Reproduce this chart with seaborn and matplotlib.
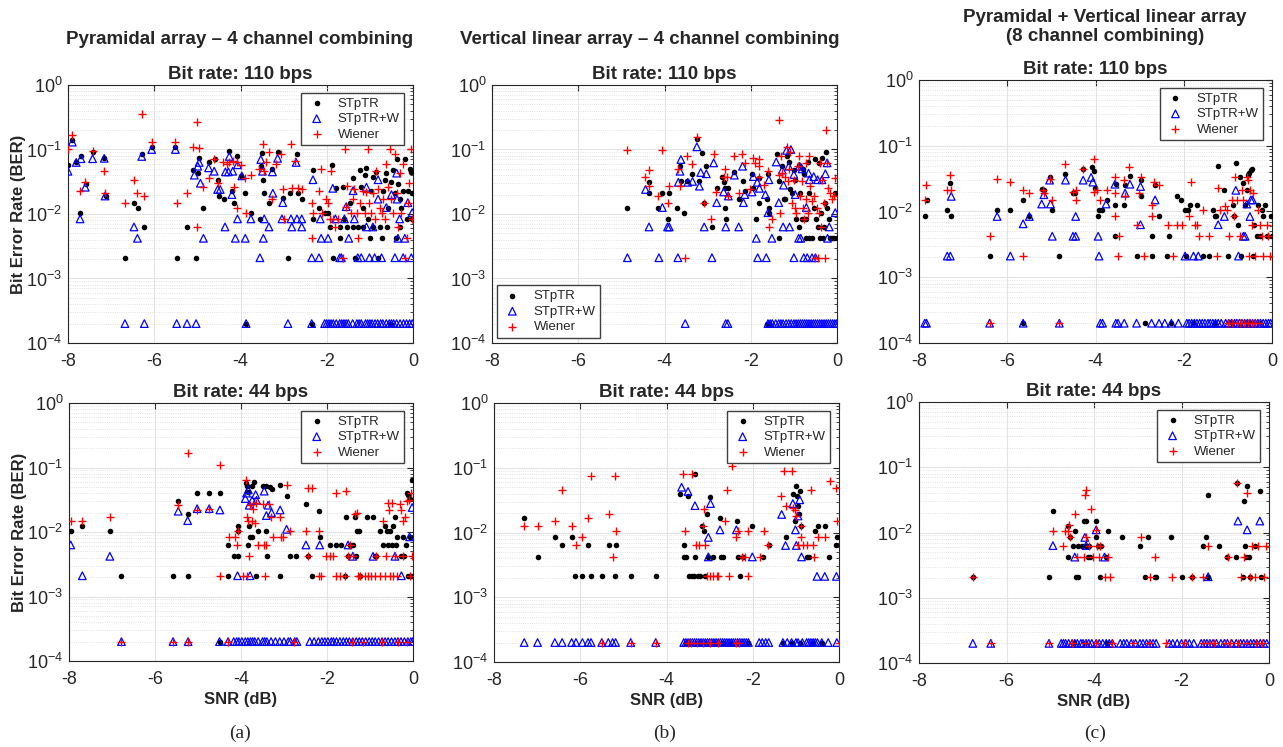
import matplotlib
matplotlib.use("Agg")
import matplotlib.pyplot as plt
from matplotlib.ticker import LogLocator, NullLocator, FixedLocator
import pandas as pd
import seaborn as sns

# BER values; zero-error runs are drawn on the 2e-4 floor
BER_FLOOR = 2e-4
SERIES = ["STpTR", "STpTR+W", "Wiener"]

# ---------------- (a) Pyramidal array, 110 bps ----------------
a_hi_stptr = [
    (-8.0, 0.057), (-7.9, 0.14), (-7.81, 0.063), (-7.7, 0.078), (-7.72, 0.0105), (-7.59, 0.029), (-7.43, 0.093),
    (-7.16, 0.075), (-7.12, 0.019), (-6.68, 0.0021), (-6.47, 0.0148), (-6.37, 0.0126), (-6.29, 0.085), (-6.23, 0.0063),
    (-6.06, 0.11), (-5.51, 0.11), (-5.48, 0.0021), (-5.24, 0.0063), (-5.09, 0.048), (-5.03, 0.0021), (-4.99, 0.043),
    (-4.96, 0.075), (-4.88, 0.0126), (-4.72, 0.065), (-4.6, 0.07), (-4.53, 0.034), (-4.49, 0.019), (-4.38, 0.017),
    (-4.26, 0.095), (-4.2, 0.023), (-4.14, 0.015), (-4.07, 0.08), (-3.99, 0.039), (-3.89, 0.021), (-3.87, 0.0002),
    (-3.76, 0.0105), (-3.55, 0.0084), (-3.53, 0.055), (-3.49, 0.088), (-3.47, 0.034), (-3.45, 0.021), (-3.34, 0.015),
    (-3.26, 0.05), (-3.14, 0.093), (-3.02, 0.018), (-2.9, 0.0021), (-2.86, 0.021), (-2.69, 0.085), (-2.67, 0.021),
    (-2.57, 0.017), (-2.35, 0.0002), (-2.32, 0.048), (-2.32, 0.0084), (-2.17, 0.0126), (-2.05, 0.0105), (-1.97, 0.0105),
    (-1.93, 0.0063), (-1.88, 0.057), (-1.86, 0.0021), (-1.78, 0.025), (-1.7, 0.0042), (-1.7, 0.0063), (-1.63, 0.026),
    (-1.59, 0.0084), (-1.52, 0.0063), (-1.47, 0.015), (-1.4, 0.036), (-1.4, 0.0063), (-1.35, 0.0021), (-1.28, 0.0063),
    (-1.24, 0.048), (-1.2, 0.026), (-1.16, 0.0126), (-1.16, 0.0063), (-1.12, 0.04), (-1.08, 0.052), (-1.04, 0.0084),
    (-1.0, 0.0042), (-0.97, 0.023), (-0.93, 0.038), (-0.93, 0.0063), (-0.85, 0.045), (-0.81, 0.0021), (-0.77, 0.0063),
    (-0.73, 0.0042), (-0.7, 0.023), (-0.66, 0.034), (-0.62, 0.043), (-0.6, 0.0063), (-0.58, 0.0126), (-0.53, 0.0002),
    (-0.5, 0.031), (-0.46, 0.048), (-0.42, 0.021), (-0.4, 0.0042), (-0.38, 0.07), (-0.35, 0.029), (-0.31, 0.017),
    (-0.3, 0.0063), (-0.27, 0.0126), (-0.23, 0.023), (-0.19, 0.07), (-0.15, 0.0084), (-0.12, 0.023), (-0.08, 0.05),
    (-0.04, 0.045), (-0.02, 0.021), (-0.02, 0.0084),
]
a_hi_stptrw = [
    (-8.0, 0.046), (-7.9, 0.13), (-7.81, 0.063), (-7.72, 0.0084), (-7.7, 0.072), (-7.6, 0.026), (-7.43, 0.072),
    (-7.16, 0.073), (-7.14, 0.019), (-6.47, 0.0063), (-6.39, 0.0042), (-6.29, 0.078), (-6.06, 0.1), (-5.51, 0.1),
    (-5.07, 0.04), (-4.99, 0.055), (-4.96, 0.063), (-4.93, 0.03), (-4.86, 0.0042), (-4.74, 0.052), (-4.61, 0.046),
    (-4.53, 0.024), (-4.47, 0.024), (-4.36, 0.0063), (-4.35, 0.045), (-4.28, 0.045), (-4.26, 0.078), (-4.2, 0.02),
    (-4.18, 0.046), (-4.12, 0.0042), (-4.07, 0.0084), (-4.07, 0.058), (-3.97, 0.039), (-3.89, 0.0042), (-3.76, 0.0084),
    (-3.55, 0.0021), (-3.53, 0.07), (-3.49, 0.046), (-3.47, 0.0042), (-3.45, 0.0084), (-3.34, 0.0063), (-3.26, 0.045),
    (-3.25, 0.021), (-3.14, 0.073), (-3.04, 0.0084), (-3.02, 0.015), (-2.83, 0.0084), (-2.81, 0.0063), (-2.71, 0.063),
    (-2.69, 0.0084), (-2.58, 0.0084), (-2.58, 0.0063), (-2.35, 0.0021), (-2.32, 0.034), (-2.18, 0.0021), (-2.15, 0.0084),
    (-2.13, 0.0042), (-1.97, 0.0042), (-1.86, 0.025), (-1.8, 0.0084), (-1.7, 0.0021), (-1.66, 0.0021), (-1.59, 0.0084),
    (-1.55, 0.013), (-1.49, 0.0042), (-1.39, 0.023), (-1.36, 0.0084), (-1.28, 0.0021), (-1.2, 0.0021), (-1.08, 0.026),
    (-1.08, 0.0063), (-1.01, 0.0021), (-0.93, 0.0063), (-0.89, 0.0021), (-0.81, 0.034), (-0.81, 0.017), (-0.73, 0.0021),
    (-0.62, 0.0126), (-0.5, 0.02), (-0.42, 0.0021), (-0.38, 0.043), (-0.37, 0.017), (-0.35, 0.0042), (-0.31, 0.0084),
    (-0.23, 0.0021), (-0.19, 0.0042), (-0.12, 0.015), (-0.04, 0.0021), (-0.02, 0.0105),
]
a_hi_stptrw_zero = [
    -6.68, -6.23, -5.48, -5.24, -5.03, -3.87, -2.9, -2.35, -2.05, -2.0, -1.95, -1.9, -1.85, -1.78, -1.7, -1.65,
    -1.6, -1.55, -1.5, -1.4, -1.3, -1.25, -1.2, -1.1, -1.05, -1.0, -0.95, -0.88, -0.82, -0.75, -0.7, -0.62, -0.55,
    -0.5, -0.45, -0.38, -0.3, -0.22, -0.15, -0.08, -0.02,
]
a_hi_wiener = [
    (-8.0, 0.1), (-7.9, 0.17), (-7.72, 0.023), (-7.6, 0.031), (-7.43, 0.095), (-7.16, 0.046), (-7.14, 0.021),
    (-6.68, 0.015), (-6.47, 0.034), (-6.39, 0.021), (-6.29, 0.36), (-6.23, 0.019), (-6.06, 0.13), (-5.51, 0.13),
    (-5.47, 0.015), (-5.24, 0.021), (-5.09, 0.11), (-5.02, 0.27), (-5.02, 0.0063), (-4.96, 0.105), (-4.88, 0.026),
    (-4.72, 0.036), (-4.61, 0.07), (-4.53, 0.03), (-4.4, 0.063), (-4.32, 0.059), (-4.26, 0.063), (-4.18, 0.067),
    (-4.14, 0.026), (-4.09, 0.0126), (-4.07, 0.063), (-3.99, 0.057), (-3.89, 0.036), (-3.87, 0.0105), (-3.76, 0.04),
    (-3.57, 0.05), (-3.47, 0.12), (-3.45, 0.046), (-3.41, 0.063), (-3.34, 0.093), (-3.26, 0.017), (-3.18, 0.06),
    (-3.06, 0.085), (-3.02, 0.024), (-2.98, 0.0084), (-2.84, 0.12), (-2.81, 0.025), (-2.73, 0.067), (-2.67, 0.025),
    (-2.57, 0.024), (-2.35, 0.015), (-2.35, 0.0042), (-2.32, 0.0105), (-2.17, 0.023), (-2.14, 0.05), (-2.1, 0.0105),
    (-2.02, 0.017), (-1.97, 0.015), (-1.93, 0.0084), (-1.9, 0.046), (-1.86, 0.0084), (-1.8, 0.0063), (-1.74, 0.0084),
    (-1.63, 0.0021), (-1.57, 0.1), (-1.55, 0.013), (-1.52, 0.027), (-1.44, 0.0105), (-1.4, 0.017), (-1.36, 0.024),
    (-1.3, 0.0105), (-1.28, 0.0042), (-1.24, 0.015), (-1.16, 0.023), (-1.12, 0.0105), (-1.08, 0.022), (-1.04, 0.1),
    (-1.01, 0.015), (-0.97, 0.0105), (-0.93, 0.021), (-0.89, 0.0084), (-0.85, 0.046), (-0.81, 0.024), (-0.77, 0.0126),
    (-0.73, 0.0105), (-0.7, 0.017), (-0.66, 0.0084), (-0.62, 0.06), (-0.58, 0.026), (-0.54, 0.1), (-0.5, 0.017),
    (-0.46, 0.0105), (-0.42, 0.085), (-0.38, 0.021), (-0.35, 0.0063), (-0.31, 0.043), (-0.27, 0.0105), (-0.23, 0.06),
    (-0.19, 0.0021), (-0.15, 0.0042), (-0.12, 0.015), (-0.09, 0.03), (-0.04, 0.1), (-0.02, 0.0084),
]

# ---------------- (a) Pyramidal array, 44 bps ----------------
a_lo_stptr = [
    (-7.96, 0.0105), (-7.69, 0.0126), (-7.05, 0.0105), (-6.78, 0.0021), (-5.58, 0.0021), (-5.46, 0.03), (-5.23, 0.019),
    (-5.23, 0.0021), (-5.02, 0.04), (-4.74, 0.04), (-4.49, 0.04), (-4.5, 0.0002), (-4.3, 0.0063), (-4.3, 0.0021),
    (-4.17, 0.0042), (-4.08, 0.0126), (-4.07, 0.0042), (-4.08, 0.0105), (-3.89, 0.058), (-3.87, 0.052), (-3.83, 0.042),
    (-3.83, 0.0063), (-3.81, 0.0126), (-3.78, 0.0084), (-3.74, 0.052), (-3.74, 0.0084), (-3.7, 0.06), (-3.66, 0.0021),
    (-3.6, 0.0105), (-3.49, 0.052), (-3.41, 0.052), (-3.39, 0.0042), (-3.41, 0.0105), (-3.33, 0.049), (-3.29, 0.047),
    (-3.1, 0.053), (-3.1, 0.0021), (-2.94, 0.036), (-2.86, 0.0042), (-2.72, 0.0042), (-2.49, 0.027), (-2.44, 0.0042),
    (-2.35, 0.0021), (-2.18, 0.021), (-2.17, 0.0084), (-1.94, 0.0063), (-1.8, 0.0063), (-1.68, 0.0063), (-1.59, 0.0021),
    (-1.55, 0.0168), (-1.51, 0.0042), (-1.47, 0.0063), (-1.4, 0.0063), (-1.36, 0.0168), (-1.33, 0.0042), (-1.3, 0.0105),
    (-1.25, 0.0105), (-1.24, 0.0021), (-1.08, 0.0168), (-0.93, 0.0168), (-0.89, 0.0042), (-0.85, 0.0042), (-0.77, 0.0105),
    (-0.7, 0.0063), (-0.66, 0.0126), (-0.6, 0.0105), (-0.58, 0.0063), (-0.54, 0.0105), (-0.5, 0.0063), (-0.46, 0.0126),
    (-0.42, 0.0168), (-0.4, 0.0063), (-0.37, 0.0084), (-0.27, 0.0042), (-0.23, 0.0084), (-0.21, 0.0042), (-0.17, 0.0063),
    (-0.14, 0.04), (-0.12, 0.037), (-0.12, 0.0021), (-0.08, 0.0084), (-0.06, 0.033), (-0.04, 0.0021), (-0.02, 0.063),
]
a_lo_stptrw = [
    (-7.96, 0.0063), (-7.69, 0.0021), (-7.05, 0.0042), (-5.46, 0.021), (-5.24, 0.015), (-5.02, 0.023), (-4.74, 0.023),
    (-4.49, 0.022), (-4.08, 0.0021), (-3.9, 0.033), (-3.87, 0.04), (-3.83, 0.045), (-3.81, 0.026), (-3.79, 0.0021),
    (-3.74, 0.031), (-3.66, 0.038), (-3.64, 0.031), (-3.46, 0.043), (-3.41, 0.018), (-3.37, 0.026), (-3.29, 0.02),
    (-3.09, 0.022), (-2.94, 0.011), (-2.49, 0.0063), (-2.17, 0.0063), (-1.51, 0.0063), (-1.4, 0.0042), (-0.93, 0.0042),
    (-0.42, 0.0042), (-0.27, 0.0021), (-0.08, 0.0084), (-0.02, 0.024),
]
a_lo_stptrw_zero = [
    -6.78, -5.58, -5.23, -4.5, -4.3, -4.17, -4.1, -4.05, -3.98, -3.9, -3.84, -3.78, -3.73, -3.68, -3.6, -3.5, -3.45,
    -3.4, -3.3, -3.2, -3.1, -3.0, -2.9, -2.85, -2.75, -2.7, -2.4, -2.3, -2.2, -2.12, -2.05, -1.98, -1.9, -1.85, -1.78,
    -1.7, -1.62, -1.55, -1.48, -1.4, -1.32, -1.25, -1.18, -1.1, -1.02, -0.95, -0.88, -0.8, -0.72, -0.65, -0.58, -0.5,
    -0.42, -0.35, -0.28, -0.2, -0.12, -0.05, -0.01,
]
a_lo_wiener = [
    (-7.96, 0.015), (-7.69, 0.015), (-7.05, 0.017), (-6.78, 0.0002), (-5.58, 0.0002), (-5.46, 0.026), (-5.23, 0.17),
    (-5.23, 0.0002), (-5.02, 0.022), (-4.74, 0.023), (-4.49, 0.11), (-4.5, 0.0021), (-4.3, 0.0002), (-4.28, 0.0084),
    (-4.15, 0.0084), (-4.08, 0.0105), (-4.09, 0.0063), (-3.95, 0.0021), (-3.89, 0.063), (-3.87, 0.0168), (-3.86, 0.0021),
    (-3.83, 0.015), (-3.81, 0.0042), (-3.79, 0.026), (-3.75, 0.015), (-3.72, 0.023), (-3.68, 0.014), (-3.65, 0.028),
    (-3.6, 0.0063), (-3.49, 0.027), (-3.46, 0.0063), (-3.45, 0.0021), (-3.41, 0.0063), (-3.34, 0.027), (-3.3, 0.017),
    (-3.25, 0.0084), (-3.1, 0.017), (-3.06, 0.0084), (-3.02, 0.0084), (-2.94, 0.053), (-2.86, 0.0105), (-2.77, 0.0002),
    (-2.49, 0.0105), (-2.44, 0.048), (-2.44, 0.0042), (-2.35, 0.048), (-2.18, 0.0105), (-2.18, 0.0021), (-2.13, 0.0021),
    (-2.03, 0.0042), (-1.94, 0.0042), (-1.86, 0.0042), (-1.8, 0.04), (-1.78, 0.0021), (-1.7, 0.0021), (-1.59, 0.0021),
    (-1.55, 0.043), (-1.51, 0.0042), (-1.47, 0.0063), (-1.43, 0.0002), (-1.4, 0.0042), (-1.36, 0.019), (-1.3, 0.02),
    (-1.28, 0.0021), (-1.24, 0.0021), (-1.16, 0.0002), (-1.12, 0.0021), (-1.04, 0.0021), (-0.97, 0.0021), (-0.89, 0.0021),
    (-0.85, 0.0042), (-0.77, 0.0021), (-0.73, 0.0002), (-0.7, 0.015), (-0.66, 0.0021), (-0.62, 0.0042), (-0.58, 0.028),
    (-0.56, 0.022), (-0.54, 0.0021), (-0.5, 0.028), (-0.46, 0.0021), (-0.42, 0.0042), (-0.38, 0.0021), (-0.35, 0.0002),
    (-0.31, 0.027), (-0.27, 0.022), (-0.24, 0.015), (-0.23, 0.0042), (-0.19, 0.017), (-0.15, 0.0002), (-0.14, 0.03),
    (-0.09, 0.031), (-0.08, 0.0021), (-0.04, 0.04), (-0.02, 0.0042),
]

# ---------------- (b) Vertical linear array, 110 bps ----------------
b_hi_stptr = [
    (-4.86, 0.0126), (-4.37, 0.031), (-4.36, 0.021), (-4.14, 0.0126), (-4.06, 0.021), (-3.93, 0.0084), (-3.89, 0.021),
    (-3.7, 0.0126), (-3.64, 0.056), (-3.62, 0.032), (-3.54, 0.0105), (-3.48, 0.032), (-3.37, 0.042), (-3.25, 0.145),
    (-3.19, 0.032), (-3.14, 0.088), (-3.08, 0.015), (-3.03, 0.056), (-2.9, 0.0063), (-2.79, 0.025), (-2.67, 0.038),
    (-2.63, 0.031), (-2.6, 0.025), (-2.58, 0.0084), (-2.6, 0.0126), (-2.52, 0.025), (-2.38, 0.044), (-2.28, 0.017),
    (-2.17, 0.033), (-2.13, 0.023), (-1.97, 0.042), (-1.95, 0.025), (-1.87, 0.0084), (-1.82, 0.015), (-1.82, 0.036),
    (-1.62, 0.017), (-1.62, 0.0002), (-1.6, 0.042), (-1.58, 0.0126), (-1.58, 0.0105), (-1.57, 0.0002), (-1.39, 0.086),
    (-1.35, 0.0042), (-1.35, 0.032), (-1.27, 0.056), (-1.24, 0.017), (-1.2, 0.017), (-1.16, 0.078), (-1.12, 0.064),
    (-1.08, 0.024), (-1.04, 0.021), (-1.0, 0.048), (-0.97, 0.034), (-0.94, 0.0084), (-0.89, 0.0063), (-0.87, 0.058),
    (-0.85, 0.021), (-0.81, 0.0084), (-0.79, 0.05), (-0.76, 0.041), (-0.73, 0.0084), (-0.71, 0.0042), (-0.68, 0.064),
    (-0.66, 0.021), (-0.64, 0.0042), (-0.58, 0.0042), (-0.54, 0.0126), (-0.5, 0.07), (-0.48, 0.0084), (-0.45, 0.0063),
    (-0.42, 0.062), (-0.4, 0.0042), (-0.37, 0.0105), (-0.35, 0.074), (-0.33, 0.0042), (-0.29, 0.0063), (-0.27, 0.015),
    (-0.25, 0.093), (-0.23, 0.0126), (-0.19, 0.0084), (-0.17, 0.0042), (-0.11, 0.0042), (-0.08, 0.0042), (-0.04, 0.021),
    (-0.01, 0.0042),
]
b_hi_stptrw = [
    (-4.86, 0.0021), (-4.44, 0.024), (-4.36, 0.0063), (-4.13, 0.0021), (-4.05, 0.0126), (-3.93, 0.0063), (-3.89, 0.0063),
    (-3.69, 0.0021), (-3.68, 0.031), (-3.64, 0.046), (-3.62, 0.07), (-3.46, 0.031), (-3.35, 0.032), (-3.25, 0.11),
    (-3.19, 0.027), (-3.16, 0.044), (-3.08, 0.0063), (-3.03, 0.042), (-2.9, 0.0021), (-2.86, 0.062), (-2.79, 0.015),
    (-2.63, 0.022), (-2.58, 0.0063), (-2.52, 0.019), (-2.38, 0.04), (-2.28, 0.0063), (-2.19, 0.055), (-2.17, 0.015),
    (-2.14, 0.02), (-1.97, 0.022), (-1.94, 0.038), (-1.87, 0.0042), (-1.85, 0.031), (-1.84, 0.0021), (-1.8, 0.025),
    (-1.66, 0.02), (-1.64, 0.0021), (-1.6, 0.0105), (-1.58, 0.034), (-1.51, 0.0042), (-1.41, 0.064), (-1.35, 0.015),
    (-1.27, 0.048), (-1.25, 0.0063), (-1.24, 0.028), (-1.17, 0.097), (-1.12, 0.055), (-1.1, 0.0063), (-1.07, 0.1),
    (-1.0, 0.041), (-1.0, 0.0021), (-0.97, 0.02), (-0.89, 0.0042), (-0.87, 0.055), (-0.84, 0.0042), (-0.81, 0.05),
    (-0.77, 0.0021), (-0.71, 0.0126), (-0.69, 0.0021), (-0.66, 0.043), (-0.64, 0.034), (-0.58, 0.0021), (-0.54, 0.038),
    (-0.5, 0.0021), (-0.45, 0.034), (-0.35, 0.034), (-0.27, 0.042), (-0.23, 0.062), (-0.22, 0.0042), (-0.18, 0.0063),
    (-0.04, 0.0105),
]
b_hi_stptrw_zero = [
    -3.52, -2.58, -2.53, -1.6, -1.55, -1.5, -1.42, -1.35, -1.3, -1.25, -1.18, -1.12, -1.06, -1.0, -0.95, -0.9, -0.85,
    -0.8, -0.75, -0.7, -0.65, -0.6, -0.55, -0.5, -0.45, -0.4, -0.35, -0.3, -0.25, -0.2, -0.15, -0.1, -0.05, -0.01,
]
b_hi_wiener = [
    (-4.86, 0.098), (-4.45, 0.038), (-4.37, 0.048), (-4.37, 0.027), (-4.14, 0.019), (-4.05, 0.098), (-3.93, 0.015),
    (-3.89, 0.027), (-3.68, 0.05), (-3.64, 0.027), (-3.52, 0.0021), (-3.48, 0.08), (-3.37, 0.06), (-3.25, 0.155),
    (-3.08, 0.015), (-2.93, 0.0084), (-2.86, 0.086), (-2.8, 0.022), (-2.63, 0.038), (-2.6, 0.05), (-2.55, 0.038),
    (-2.53, 0.019), (-2.38, 0.078), (-2.28, 0.021), (-2.2, 0.086), (-2.13, 0.062), (-2.01, 0.024), (-1.95, 0.075),
    (-1.9, 0.062), (-1.82, 0.07), (-1.82, 0.055), (-1.82, 0.038), (-1.7, 0.028), (-1.6, 0.046), (-1.58, 0.0063),
    (-1.51, 0.0084), (-1.35, 0.29), (-1.35, 0.04), (-1.32, 0.0105), (-1.29, 0.078), (-1.27, 0.043), (-1.21, 0.038),
    (-1.17, 0.11), (-1.13, 0.032), (-1.12, 0.05), (-1.08, 0.093), (-1.04, 0.015), (-1.0, 0.034), (-0.98, 0.0126),
    (-0.94, 0.0105), (-0.9, 0.055), (-0.87, 0.08), (-0.85, 0.019), (-0.81, 0.032), (-0.79, 0.0126), (-0.76, 0.0084),
    (-0.73, 0.017), (-0.71, 0.062), (-0.68, 0.0105), (-0.66, 0.078), (-0.62, 0.027), (-0.58, 0.016), (-0.54, 0.019),
    (-0.5, 0.0021), (-0.46, 0.0126), (-0.45, 0.0021), (-0.42, 0.0105), (-0.4, 0.062), (-0.37, 0.0063), (-0.35, 0.034),
    (-0.31, 0.015), (-0.27, 0.0021), (-0.25, 0.2), (-0.23, 0.062), (-0.21, 0.025), (-0.17, 0.021), (-0.11, 0.017),
    (-0.08, 0.019), (-0.04, 0.036),
]

# ---------------- (b) Vertical linear array, 44 bps ----------------
b_lo_stptr = [
    (-7.3, 0.017), (-6.99, 0.0042), (-6.59, 0.0084), (-6.42, 0.0063), (-6.2, 0.0084), (-6.12, 0.0021), (-5.95, 0.0021),
    (-5.81, 0.0063), (-5.75, 0.0021), (-5.49, 0.0021), (-5.33, 0.0063), (-5.2, 0.0021), (-5.17, 0.0063), (-4.83, 0.0021),
    (-4.25, 0.0021), (-3.68, 0.04), (-3.6, 0.0063), (-3.6, 0.0042), (-3.55, 0.0042), (-3.5, 0.037), (-3.48, 0.0021),
    (-3.42, 0.0021), (-3.37, 0.0021), (-3.34, 0.08), (-3.33, 0.0042), (-3.27, 0.0021), (-3.23, 0.0021), (-3.17, 0.0126),
    (-3.14, 0.0105), (-3.11, 0.0021), (-3.05, 0.019), (-3.03, 0.0042), (-2.98, 0.035), (-2.93, 0.0042), (-2.76, 0.017),
    (-2.74, 0.0042), (-2.69, 0.0042), (-2.36, 0.015), (-2.34, 0.0042), (-2.29, 0.0021), (-2.22, 0.0042), (-2.01, 0.0126),
    (-1.76, 0.0042), (-1.62, 0.0063), (-1.24, 0.0084), (-1.07, 0.04), (-1.01, 0.015), (-0.99, 0.052), (-0.97, 0.037),
    (-0.95, 0.026), (-0.93, 0.019), (-0.9, 0.043), (-0.87, 0.0126), (-0.74, 0.0042), (-0.7, 0.0042), (-0.56, 0.0105),
    (-0.49, 0.0126), (-0.33, 0.0126), (-0.23, 0.0042), (-0.06, 0.0063), (-0.05, 0.0084),
    (-3.55, 0.0002), (-3.45, 0.0002), (-3.3, 0.0002), (-3.1, 0.0002), (-2.9, 0.0002), (-2.7, 0.0002), (-2.5, 0.0002),
    (-2.35, 0.0002), (-2.1, 0.0002), (-1.3, 0.0002), (-1.1, 0.0002), (-0.9, 0.0002), (-0.6, 0.0002), (-0.4, 0.0002),
]
b_lo_stptrw = [
    (-3.65, 0.05), (-3.5, 0.043), (-3.34, 0.026), (-3.03, 0.0084), (-2.98, 0.028), (-3.03, 0.0042), (-2.76, 0.011),
    (-2.38, 0.011), (-2.01, 0.0042), (-1.33, 0.019), (-1.24, 0.0063), (-1.07, 0.028), (-1.01, 0.011), (-0.99, 0.0063),
    (-0.95, 0.018), (-0.91, 0.032), (-0.87, 0.0042), (-0.51, 0.0021), (-0.33, 0.0021), (-0.06, 0.0021),
]
b_lo_stptrw_zero = [
    -7.3, -6.99, -6.59, -6.42, -6.2, -6.1, -5.95, -5.82, -5.75, -5.5, -5.35, -5.25, -5.18, -4.83, -4.25, -3.6, -3.55,
    -3.5, -3.45, -3.4, -3.35, -3.3, -3.25, -3.2, -3.15, -3.1, -3.05, -3.0, -2.95, -2.9, -2.85, -2.8, -2.75, -2.7,
    -2.65, -2.6, -2.55, -2.5, -2.45, -2.4, -2.35, -2.3, -2.25, -2.2, -2.15, -2.1, -1.85, -1.78, -1.7, -1.63, -1.3,
    -1.2, -1.1, -1.0, -0.95, -0.85, -0.75, -0.7, -0.65, -0.6, -0.55, -0.5, -0.4, -0.25, -0.05,
]
b_lo_wiener = [
    (-7.3, 0.0126), (-6.99, 0.0126), (-6.59, 0.015), (-6.42, 0.045), (-6.2, 0.0126), (-6.11, 0.0063), (-5.95, 0.0084),
    (-5.81, 0.017), (-5.74, 0.075), (-5.49, 0.0002), (-5.33, 0.019), (-5.25, 0.0042), (-5.2, 0.075), (-5.17, 0.0105),
    (-4.83, 0.0002), (-4.25, 0.0002), (-3.61, 0.08), (-3.56, 0.0105), (-3.42, 0.08), (-3.32, 0.0063), (-3.24, 0.0063),
    (-3.15, 0.0126), (-3.14, 0.023), (-3.11, 0.0063), (-3.07, 0.0021), (-3.0, 0.0021), (-2.92, 0.0021), (-2.84, 0.0021),
    (-2.8, 0.0021), (-2.65, 0.015), (-2.59, 0.045), (-2.56, 0.0021), (-2.49, 0.105), (-2.38, 0.0084), (-2.34, 0.0105),
    (-2.26, 0.0042), (-2.19, 0.0042), (-2.12, 0.0105), (-2.1, 0.0021), (-1.84, 0.0042), (-1.74, 0.0105), (-1.64, 0.0063),
    (-1.34, 0.037), (-1.28, 0.09), (-1.24, 0.026), (-1.1, 0.09), (-1.07, 0.024), (-1.03, 0.022), (-0.99, 0.018),
    (-0.95, 0.0063), (-0.89, 0.0126), (-0.87, 0.0084), (-0.83, 0.0063), (-0.75, 0.0063), (-0.64, 0.045), (-0.6, 0.0063),
    (-0.58, 0.0042), (-0.49, 0.0084), (-0.33, 0.0084), (-0.21, 0.063), (-0.07, 0.048), (-0.05, 0.015), (0.0, 0.0002),
    (-3.5, 0.0002), (-3.43, 0.0002), (-3.3, 0.0002), (-3.15, 0.0002), (-3.0, 0.0002), (-2.8, 0.0002), (-2.4, 0.0002),
    (-2.32, 0.0002),
]

# ---------------- (c) Pyramidal + vertical linear array, 110 bps ----------------
c_hi_stptr = [
    (-7.87, 0.0084), (-7.83, 0.015), (-7.36, 0.0105), (-7.29, 0.027), (-7.27, 0.0084), (-6.4, 0.0021), (-6.23, 0.0105),
    (-5.93, 0.0105), (-5.64, 0.015), (-5.5, 0.0084), (-5.22, 0.022), (-5.17, 0.021), (-5.04, 0.033), (-4.98, 0.0105),
    (-4.82, 0.0021), (-4.68, 0.037), (-4.51, 0.019), (-4.47, 0.019), (-4.28, 0.044), (-4.07, 0.047), (-4.04, 0.042),
    (-4.01, 0.023), (-3.94, 0.0084), (-3.92, 0.0105), (-3.86, 0.0105), (-3.75, 0.015), (-3.56, 0.0126), (-3.55, 0.0042),
    (-3.54, 0.026), (-3.36, 0.0126), (-3.33, 0.025), (-3.22, 0.035), (-3.07, 0.0021), (-2.98, 0.03), (-2.98, 0.017),
    (-2.73, 0.0021), (-2.71, 0.0042), (-2.65, 0.025), (-2.56, 0.0084), (-2.39, 0.0021), (-2.34, 0.0042), (-2.15, 0.017),
    (-2.07, 0.015), (-1.97, 0.0105), (-1.94, 0.0021), (-1.9, 0.0105), (-1.86, 0.0126), (-1.69, 0.0126), (-1.56, 0.0021),
    (-1.42, 0.0021), (-1.33, 0.0105), (-1.29, 0.0084), (-1.26, 0.0084), (-1.22, 0.05), (-1.09, 0.021), (-0.99, 0.0021),
    (-0.88, 0.0126), (-0.85, 0.0084), (-0.82, 0.054), (-0.78, 0.0063), (-0.73, 0.033), (-0.71, 0.0021), (-0.65, 0.027),
    (-0.61, 0.0126), (-0.57, 0.021), (-0.54, 0.036), (-0.51, 0.038), (-0.48, 0.043), (-0.46, 0.045), (-0.42, 0.0021),
    (-0.4, 0.0063), (-0.35, 0.0042), (-0.31, 0.0126), (-0.27, 0.0042), (-0.23, 0.0105), (-0.2, 0.0084), (-0.16, 0.0126),
    (-0.12, 0.0042), (-0.02, 0.0084), (-0.01, 0.0042),
    (-5.64, 0.0002), (-2.88, 0.0002), (-2.28, 0.0002), (-1.8, 0.0002), (-1.3, 0.0002), (-0.9, 0.0002), (-0.55, 0.0002),
    (-0.3, 0.0002),
]
c_hi_stptrw = [
    (-7.36, 0.0021), (-7.29, 0.0021), (-7.27, 0.017), (-6.23, 0.0084), (-5.93, 0.0021), (-5.64, 0.0065), (-5.5, 0.0084),
    (-5.22, 0.013), (-5.17, 0.018), (-5.04, 0.03), (-5.02, 0.013), (-4.98, 0.0042), (-4.68, 0.03), (-4.51, 0.0042),
    (-4.45, 0.0042), (-4.45, 0.0084), (-4.28, 0.03), (-4.1, 0.033), (-4.06, 0.028), (-3.94, 0.0042), (-3.92, 0.0021),
    (-3.76, 0.013), (-3.56, 0.026), (-3.33, 0.019), (-3.22, 0.026), (-2.98, 0.0063), (-2.98, 0.024), (-2.65, 0.015),
    (-1.97, 0.0021), (-1.78, 0.0021), (-1.67, 0.0021), (-1.22, 0.0063), (-1.08, 0.0084), (-0.82, 0.021), (-0.76, 0.0021),
    (-0.65, 0.0042), (-0.61, 0.0042), (-0.57, 0.013), (-0.5, 0.0084), (-0.48, 0.015), (-0.44, 0.015),
]
c_hi_stptrw_zero = [
    -7.87, -7.83, -6.4, -5.64, -4.82, -3.89, -3.84, -3.54, -3.49, -3.35, -3.07, -2.73, -2.56, -2.43, -2.28, -2.12,
    -1.93, -1.88, -1.82, -1.76, -1.7, -1.64, -1.58, -1.52, -1.45, -1.4, -1.34, -1.28, -1.22, -1.15, -1.05, -0.98,
    -0.92, -0.85, -0.8, -0.74, -0.68, -0.62, -0.56, -0.5, -0.44, -0.38, -0.32, -0.26, -0.2, -0.14, -0.08, -0.03,
]
c_hi_wiener = [
    (-7.85, 0.025), (-7.87, 0.015), (-7.36, 0.021), (-7.29, 0.036), (-7.27, 0.021), (-6.38, 0.0042), (-6.23, 0.031),
    (-5.93, 0.028), (-5.64, 0.021), (-5.64, 0.0021), (-5.5, 0.019), (-5.2, 0.021), (-5.17, 0.019), (-5.04, 0.031),
    (-4.98, 0.015), (-4.82, 0.0002), (-4.68, 0.053), (-4.51, 0.02), (-4.45, 0.021), (-4.45, 0.015), (-4.28, 0.044),
    (-4.04, 0.063), (-4.03, 0.02), (-3.96, 0.021), (-3.89, 0.015), (-3.75, 0.021), (-3.56, 0.033), (-3.56, 0.019),
    (-3.56, 0.0084), (-3.46, 0.0042), (-3.49, 0.0021), (-3.36, 0.03), (-3.33, 0.017), (-3.24, 0.047), (-3.07, 0.0063),
    (-3.01, 0.019), (-2.96, 0.033), (-2.9, 0.0021), (-2.73, 0.0084), (-2.71, 0.0126), (-2.67, 0.028), (-2.56, 0.025),
    (-2.35, 0.0063), (-2.25, 0.0021), (-2.16, 0.0063), (-2.05, 0.0063), (-1.88, 0.0084), (-1.84, 0.028), (-1.75, 0.0063),
    (-1.71, 0.0063), (-1.65, 0.0042), (-1.56, 0.0105), (-1.42, 0.0042), (-1.24, 0.0021), (-1.22, 0.023), (-1.17, 0.0105),
    (-1.07, 0.012), (-1.03, 0.0105), (-0.97, 0.0042), (-0.91, 0.015), (-0.86, 0.0084), (-0.84, 0.033), (-0.8, 0.015),
    (-0.73, 0.0042), (-0.69, 0.021), (-0.65, 0.015), (-0.57, 0.033), (-0.54, 0.03), (-0.51, 0.0021), (-0.5, 0.021),
    (-0.46, 0.0063), (-0.42, 0.019), (-0.39, 0.0021), (-0.31, 0.0105), (-0.27, 0.0063), (-0.23, 0.0042), (-0.2, 0.0021),
    (-0.12, 0.0063), (-0.08, 0.0042), (-0.04, 0.0021),
    (-6.4, 0.0002), (-1.0, 0.0002), (-0.9, 0.0002), (-0.8, 0.0002), (-0.72, 0.0002), (-0.64, 0.0002), (-0.55, 0.0002),
    (-0.45, 0.0002), (-0.38, 0.0002), (-0.3, 0.0002),
]

# ---------------- (c) Pyramidal + vertical linear array, 44 bps ----------------
c_lo_stptr = [
    (-6.77, 0.0021), (-5.03, 0.0021), (-4.94, 0.021), (-4.59, 0.0042), (-4.59, 0.0126), (-4.56, 0.0084), (-4.48, 0.0063),
    (-4.44, 0.0105), (-4.42, 0.0021), (-4.37, 0.0021), (-4.37, 0.0063), (-4.27, 0.0063), (-4.24, 0.015), (-4.19, 0.015),
    (-4.18, 0.0063), (-4.14, 0.0042), (-4.1, 0.0042), (-4.11, 0.0063), (-3.95, 0.015), (-3.95, 0.0084), (-3.91, 0.0063),
    (-3.87, 0.0021), (-3.83, 0.0063), (-3.73, 0.0042), (-3.68, 0.0105), (-3.35, 0.0084), (-2.94, 0.0063), (-2.84, 0.0021),
    (-2.77, 0.0084), (-2.61, 0.0021), (-2.58, 0.0021), (-2.23, 0.0084), (-2.0, 0.0021), (-1.75, 0.0021), (-1.52, 0.0063),
    (-1.43, 0.0084), (-1.39, 0.038), (-1.39, 0.0021), (-1.14, 0.0063), (-0.96, 0.0042), (-0.76, 0.0042), (-0.73, 0.057),
    (-0.59, 0.0021), (-0.57, 0.03), (-0.56, 0.0063), (-0.52, 0.0042), (-0.5, 0.051), (-0.46, 0.0042), (-0.44, 0.0021),
    (-0.33, 0.0063), (-0.21, 0.043), (-0.18, 0.0021),
    (-4.45, 0.0002), (-4.2, 0.0002), (-3.7, 0.0002),
]
c_lo_stptrw = [
    (-4.94, 0.0063), (-4.44, 0.0042), (-4.21, 0.0084), (-4.18, 0.0063), (-3.95, 0.011), (-3.76, 0.0042), (-1.39, 0.0021),
    (-0.71, 0.015), (-0.5, 0.011), (-0.21, 0.015),
]
c_lo_stptrw_zero = [
    -6.77, -6.36, -5.03, -4.75, -4.7, -4.65, -4.58, -4.5, -4.44, -4.38, -4.3, -4.25, -4.18, -4.12, -4.05, -3.95,
    -3.88, -3.8, -3.72, -3.65, -3.58, -3.4, -3.32, -3.25, -3.15, -3.05, -2.95, -2.88, -2.8, -2.72, -2.65, -2.58,
    -2.28, -2.2, -2.1, -2.0, -1.9, -1.82, -1.72, -1.55, -1.48, -1.42, -1.35, -1.28, -1.2, -1.1, -1.02, -0.95, -0.85,
    -0.75, -0.65, -0.58, -0.5, -0.42, -0.35, -0.28, -0.2, -0.12, -0.05,
]
c_lo_wiener = [
    (-6.77, 0.0021), (-6.36, 0.0002), (-5.03, 0.0002), (-4.93, 0.0105), (-4.71, 0.0063), (-4.67, 0.0105), (-4.59, 0.0105),
    (-4.57, 0.013), (-4.56, 0.0084), (-4.44, 0.019), (-4.39, 0.0042), (-4.24, 0.0042), (-4.21, 0.037), (-4.19, 0.045),
    (-4.18, 0.0084), (-4.11, 0.0063), (-4.08, 0.023), (-4.02, 0.0042), (-3.96, 0.011), (-3.93, 0.0063), (-3.89, 0.0042),
    (-3.87, 0.0063), (-3.76, 0.0021), (-3.68, 0.0042), (-3.64, 0.0021), (-2.92, 0.0084), (-2.73, 0.0021), (-2.61, 0.0042),
    (-2.22, 0.0021), (-1.75, 0.0021), (-1.51, 0.0021), (-1.39, 0.0063), (-0.94, 0.0042), (-0.73, 0.057), (-0.63, 0.0021),
    (-0.57, 0.0042), (-0.5, 0.04), (-0.44, 0.0021), (-0.38, 0.0063), (-0.33, 0.0021), (-0.25, 0.0063), (-0.12, 0.0021),
    (-0.06, 0.0063),
    (-4.5, 0.0002), (-4.2, 0.0002), (-3.95, 0.0002), (-3.6, 0.0002), (-3.1, 0.0002), (-2.75, 0.0002), (-2.35, 0.0002),
    (-1.95, 0.0002), (-1.5, 0.0002), (-1.38, 0.0002), (-1.25, 0.0002), (-1.0, 0.0002), (-0.9, 0.0002), (-0.7, 0.0002),
    (-0.5, 0.0002), (-0.3, 0.0002), (-0.15, 0.0002),
]

COLUMN_TITLES = [
    "Pyramidal array \u2013 4 channel combining",
    "Vertical linear array \u2013 4 channel combining",
    "Pyramidal + Vertical linear array\n(8 channel combining)",
]
RATE_TITLES = ["Bit rate: 110 bps", "Bit rate: 44 bps"]
PANEL_LETTERS = ["(a)", "(b)", "(c)"]
X_TICKS = [-8, -6, -4, -2, 0]


def to_frame(panel, stptr, stptrw, stptrw_zero, wiener):
    rows = []
    for x, y in stptr:
        rows.append((panel, "STpTR", x, y))
    for x, y in stptrw:
        rows.append((panel, "STpTR+W", x, y))
    for x in stptrw_zero:
        rows.append((panel, "STpTR+W", x, BER_FLOOR))
    for x, y in wiener:
        rows.append((panel, "Wiener", x, y))
    return pd.DataFrame(rows, columns=["panel", "series", "snr", "ber"])


df = pd.concat([
    to_frame("a_hi", a_hi_stptr, a_hi_stptrw, a_hi_stptrw_zero, a_hi_wiener),
    to_frame("a_lo", a_lo_stptr, a_lo_stptrw, a_lo_stptrw_zero, a_lo_wiener),
    to_frame("b_hi", b_hi_stptr, b_hi_stptrw, b_hi_stptrw_zero, b_hi_wiener),
    to_frame("b_lo", b_lo_stptr, b_lo_stptrw, b_lo_stptrw_zero, b_lo_wiener),
    to_frame("c_hi", c_hi_stptr, c_hi_stptrw, c_hi_stptrw_zero, c_hi_wiener),
    to_frame("c_lo", c_lo_stptr, c_lo_stptrw, c_lo_stptrw_zero, c_lo_wiener),
], ignore_index=True)

sns.set_style("whitegrid")
plt.rcParams["font.family"] = ["Liberation Sans", "DejaVu Sans"]
plt.rcParams["mathtext.fontset"] = "custom"
plt.rcParams["mathtext.rm"] = "Liberation Sans"
plt.rcParams["axes.unicode_minus"] = False

W, H = 1283, 747
fig = plt.figure(figsize=(W / 100, H / 100), dpi=100)


def px_axes(left, top, right, bottom):
    return fig.add_axes([left / W, 1 - bottom / H, (right - left) / W, (bottom - top) / H])


# pixel boxes (left, top, right, bottom) of the six plot areas
boxes = {
    "a_hi": (68, 85, 413, 343), "a_lo": (69, 403, 413, 661),
    "b_hi": (492, 85, 837, 343), "b_lo": (494, 403, 839, 662),
    "c_hi": (919, 80, 1272, 343), "c_lo": (919, 402, 1269, 663),
}
legend_corner = {"a_hi": "ur", "a_lo": "ur", "b_hi": "ll", "b_lo": "ur", "c_hi": "ur", "c_lo": "ur"}

for col, letter in enumerate("abc"):
    for row, rate in enumerate(["hi", "lo"]):
        key = f"{letter}_{rate}"
        ax = px_axes(*boxes[key])
        sub = df[df["panel"] == key]

        s1 = sub[sub["series"] == "STpTR"]
        sns.scatterplot(data=s1, x="snr", y="ber", ax=ax, marker="o", color="black",
                        edgecolor="black", linewidth=0, s=16, label="STpTR", zorder=3)
        s2 = sub[sub["series"] == "STpTR+W"]
        sns.scatterplot(data=s2, x="snr", y="ber", ax=ax, marker="^", color="blue",
                        facecolor="none", edgecolor="blue", linewidth=0.9, s=30,
                        label="STpTR+W", zorder=3)
        s3 = sub[sub["series"] == "Wiener"]
        sns.scatterplot(data=s3, x="snr", y="ber", ax=ax, marker="+", color="red",
                        linewidth=1.0, s=30, label="Wiener", zorder=4)

        ax.set_yscale("log")
        ax.set_xlim(-8, 0)
        ax.set_ylim(1e-4, 1)
        ax.xaxis.set_major_locator(FixedLocator(X_TICKS))
        ax.xaxis.set_minor_locator(NullLocator())
        ax.yaxis.set_major_locator(LogLocator(base=10, numticks=10))
        ax.yaxis.set_minor_locator(LogLocator(base=10, subs=range(2, 10), numticks=10))
        ax.grid(True, which="major", color="#e3e3e3", linewidth=0.8, linestyle="-")
        ax.grid(True, which="minor", axis="y", color="#d9d9d9", linewidth=0.6, linestyle=":")
        ax.set_axisbelow(True)
        for sp in ax.spines.values():
            sp.set_color("#262626")
            sp.set_linewidth(0.8)
        ax.tick_params(axis="both", which="both", direction="in", top=True, right=True,
                       labelsize=13, colors="#262626", labelcolor="#262626")
        ax.tick_params(axis="both", which="major", length=4)
        ax.tick_params(axis="x", which="major", pad=7)
        ax.tick_params(axis="y", which="major", pad=4)
        ax.tick_params(axis="y", which="minor", length=2)

        ax.set_title(RATE_TITLES[row], fontsize=13.5, fontweight="bold", pad=4)
        ax.set_ylabel("Bit Error Rate (BER)" if col == 0 else "", fontsize=12,
                      fontweight="bold", labelpad=0)
        ax.set_xlabel("SNR (dB)" if row == 1 else "", fontsize=12, fontweight="bold", labelpad=3)

        if legend_corner[key] == "ur":
            loc, anchor = "upper right", (0.975, 0.97)
        else:
            loc, anchor = "lower left", (0.015, 0.02)
        ax.legend(loc=loc, bbox_to_anchor=anchor, fontsize=9.5, frameon=True, fancybox=False,
                  edgecolor="#404040", framealpha=1, borderpad=0.35, labelspacing=0.25,
                  handletextpad=0.8, handlelength=1.6, borderaxespad=0)

fig.text(240 / W, 1 - 40 / H, COLUMN_TITLES[0], ha="center", va="center", fontsize=13.5, fontweight="bold")
fig.text(650 / W, 1 - 40 / H, COLUMN_TITLES[1], ha="center", va="center", fontsize=13.5, fontweight="bold")
fig.text(1105 / W, 1 - 27 / H, COLUMN_TITLES[2], ha="center", va="center", fontsize=13.5,
         fontweight="bold", linespacing=1.15)
for x_px, letter in zip([240, 665, 1095], PANEL_LETTERS):
    fig.text(x_px / W, 1 - 733 / H, letter, ha="center", va="center", fontsize=14,
             family=["Liberation Serif", "DejaVu Serif"])

fig.savefig("out.png", dpi=100)
